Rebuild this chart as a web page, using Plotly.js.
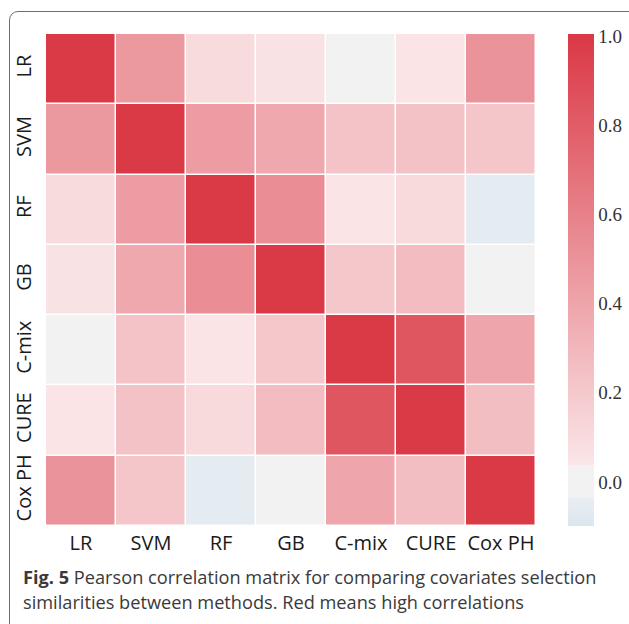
<!DOCTYPE html>
<html><head><meta charset="utf-8">
<script src="https://cdn.plot.ly/plotly-3.0.1.min.js"></script>
<style>
body{margin:0;background:#fff;}
#frame{position:absolute;left:9px;top:11px;width:700px;height:700px;border:1.5px solid #6e6e6e;border-radius:9px;box-sizing:border-box;}
#chart{position:absolute;left:0;top:0;width:629px;height:624px;}
</style>
</head><body>
<div id="frame"></div>
<div id="chart"></div>
<script>
// Categories (rows top-to-bottom, columns left-to-right)
const methods = ['LR', 'SVM', 'RF', 'GB', 'C-mix', 'CURE', 'Cox PH'];

// Pearson correlation values, one array per row
const rowLR    = [1.00, 0.47, 0.10, 0.06, 0.00, 0.05, 0.50];
const rowSVM   = [0.47, 1.00, 0.45, 0.38, 0.23, 0.24, 0.22];
const rowRF    = [0.10, 0.45, 1.00, 0.53, 0.05, 0.11, -0.06];
const rowGB    = [0.06, 0.38, 0.53, 1.00, 0.21, 0.27, 0.00];
const rowCmix  = [0.00, 0.23, 0.05, 0.21, 1.00, 0.84, 0.40];
const rowCURE  = [0.05, 0.24, 0.11, 0.27, 0.84, 1.00, 0.26];
const rowCoxPH = [0.50, 0.22, -0.06, 0.00, 0.40, 0.26, 1.00];

// Colorbar ticks
const cbTickVals = [0.0, 0.2, 0.4, 0.6, 0.8, 1.0];
const cbTickText = ['0.0', '0.2', '0.4', '0.6', '0.8', '1.0'];

const captionBold = 'Fig. 5';
const captionLine1 = 'Pearson correlation matrix for comparing covariates selection';
const captionLine2 = 'similarities between methods. Red means high correlations';

const zmin = -0.099, zmax = 1.005;
const stops = [
  [zmin, '#dce6ee'],
  [-0.037, '#e8eef3'],
  [-0.037, '#f2f2f2'],
  [0.037, '#f2f2f2'],
  [0.037, '#fae6e8'],
  [zmax, '#da3845']
];
const colorscale = stops.map(s => [(s[0] - zmin) / (zmax - zmin), s[1]]);

const z = [rowLR, rowSVM, rowRF, rowGB, rowCmix, rowCURE, rowCoxPH];

const trace = {
  type: 'heatmap',
  x: methods,
  y: methods,
  z: z,
  zmin: zmin,
  zmax: zmax,
  colorscale: colorscale,
  xgap: 1.5,
  ygap: 1.5,
  hoverinfo: 'skip',
  colorbar: {
    x: (568 - 46) / 491,
    xanchor: 'left',
    xpad: 0,
    ypad: 0,
    y: 0.5,
    yanchor: 'middle',
    len: 1,
    lenmode: 'fraction',
    thickness: 26,
    thicknessmode: 'pixels',
    outlinewidth: 0,
    ticks: '',
    tickvals: cbTickVals,
    ticktext: cbTickText,
    ticklabelstandoff: 4,
    tickfont: {family: 'Liberation Serif, DejaVu Serif, serif', size: 19, color: '#333333'}
  }
};

const axisFont = {family: 'Open Sans, Noto Sans, sans-serif', size: 20, color: '#1a1a1a'};

const layout = {
  width: 629,
  height: 624,
  margin: {l: 46, r: 92, t: 34, b: 98},
  paper_bgcolor: 'rgba(0,0,0,0)',
  plot_bgcolor: 'rgba(0,0,0,0)',
  xaxis: {
    type: 'category',
    showgrid: false, zeroline: false, showline: false, ticks: '',
    tickfont: axisFont,
    tickangle: 0,
    ticklabelstandoff: 3,
    fixedrange: true
  },
  yaxis: {
    type: 'category',
    autorange: 'reversed',
    showgrid: false, zeroline: false, showline: false, ticks: '',
    tickfont: axisFont,
    tickangle: -90,
    ticklabelstandoff: 10,
    fixedrange: true
  },
  annotations: [
    {
      xref: 'paper', yref: 'paper',
      x: (21 - 46) / 491, y: (526 - 577) / 492,
      xanchor: 'left', yanchor: 'middle',
      showarrow: false,
      text: '<b>' + captionBold + '</b> ' + captionLine1,
      font: {family: 'Open Sans, Noto Sans, sans-serif', size: 18.2, color: '#3a3a3a'}
    },
    {
      xref: 'paper', yref: 'paper',
      x: (21 - 46) / 491, y: (526 - 602) / 492,
      xanchor: 'left', yanchor: 'middle',
      showarrow: false,
      text: captionLine2,
      font: {family: 'Open Sans, Noto Sans, sans-serif', size: 18.2, color: '#3a3a3a'}
    }
  ]
};

Plotly.newPlot('chart', [trace], layout, {displayModeBar: false, staticPlot: true});
</script>
</body></html>
